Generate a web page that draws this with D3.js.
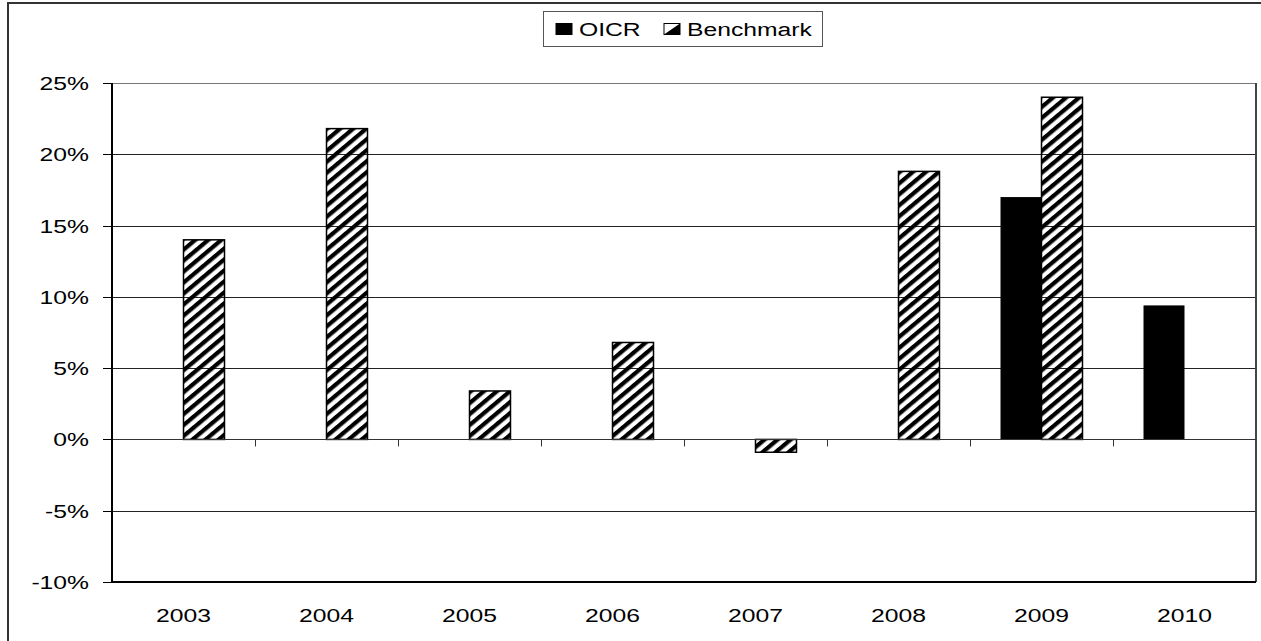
<!DOCTYPE html>
<html>
<head>
<meta charset="utf-8">
<script src="https://cdn.jsdelivr.net/npm/d3@7"></script>
<style>
  body { margin: 0; background: #fff; }
  text { font-family: "Liberation Sans", Arial, sans-serif; fill: #000; }
</style>
</head>
<body>
<svg id="chart" width="1261" height="641"></svg>
<script>
// chart values (percent)
var years = ["2003", "2004", "2005", "2006", "2007", "2008", "2009", "2010"];
var oicr = [null, null, null, null, null, null, 17.0, 9.4];
var benchmark = [14.0, 21.8, 3.4, 6.8, -0.9, 18.8, 24.0, null];
var yTicks = [-10, -5, 0, 5, 10, 15, 20, 25];
var seriesNames = ["OICR", "Benchmark"];

var svg = d3.select("#chart");
var stretch = 1.3; // the original text looks wider than normal Arial

// plot area
var plotL = 112, plotR = 1256, plotT = 83, plotB = 582;

var y = d3.scaleLinear().domain([-10, 25]).range([plotB, plotT]);
var x0 = d3.scaleBand().domain(years).range([plotL, plotR]);
var x1 = d3.scaleBand().domain(seriesNames).range([0, x0.bandwidth()]).paddingOuter(0.744);

// hatch pattern for the benchmark bars
var defs = svg.append("defs");
defs.append("pattern")
  .attr("id", "hatch")
  .attr("patternUnits", "userSpaceOnUse")
  .attr("width", 8.4).attr("height", 8.4)
  .attr("patternTransform", "rotate(50)")
  .append("rect")
  .attr("width", 4.2).attr("height", 8.4)
  .attr("fill", "#000");

// outer frame (only left + top edges are inside the picture)
svg.append("rect")
  .attr("x", 8).attr("y", 3)
  .attr("width", 1300).attr("height", 700)
  .attr("fill", "none")
  .attr("stroke", "#333").attr("stroke-width", 2);

// gridlines
svg.append("g").selectAll("line")
  .data(yTicks.filter(function(t){ return t !== -10 && t !== 0; }))
  .enter().append("line")
  .attr("x1", plotL).attr("x2", plotR)
  .attr("y1", function(d){ return Math.round(y(d)) + 0.5; })
  .attr("y2", function(d){ return Math.round(y(d)) + 0.5; })
  .attr("stroke", function(d){ return d === 25 ? "#777" : "#222"; })
  .attr("stroke-width", 1);

// right and bottom edges of the plot area
svg.append("line")
  .attr("x1", plotR).attr("x2", plotR).attr("y1", plotT).attr("y2", plotB)
  .attr("stroke", "#444").attr("stroke-width", 2);
svg.append("line")
  .attr("x1", plotL).attr("x2", plotR).attr("y1", plotB).attr("y2", plotB)
  .attr("stroke", "#000").attr("stroke-width", 2);

// bars
var groups = svg.append("g").selectAll("g")
  .data(years)
  .enter().append("g")
  .attr("transform", function(d){ return "translate(" + x0(d) + ",0)"; });

groups.each(function(yr, i) {
  var g = d3.select(this);
  if (oicr[i] != null) {
    g.append("rect")
      .attr("x", x1("OICR"))
      .attr("y", y(Math.max(0, oicr[i])))
      .attr("width", x1.bandwidth())
      .attr("height", Math.abs(y(oicr[i]) - y(0)))
      .attr("fill", "#000");
  }
  if (benchmark[i] != null) {
    g.append("rect")
      .attr("x", x1("Benchmark"))
      .attr("y", y(Math.max(0, benchmark[i])))
      .attr("width", x1.bandwidth())
      .attr("height", Math.abs(y(benchmark[i]) - y(0)))
      .attr("fill", "url(#hatch)")
      .attr("stroke", "#000").attr("stroke-width", 1.5);
  }
});

// zero axis with category ticks
svg.append("line")
  .attr("x1", plotL).attr("x2", plotR)
  .attr("y1", Math.round(y(0)) + 0.5).attr("y2", Math.round(y(0)) + 0.5)
  .attr("stroke", "#333").attr("stroke-width", 1);
svg.append("g").selectAll("line")
  .data(years.slice(1))
  .enter().append("line")
  .attr("x1", function(d){ return Math.round(x0(d)) + 0.5; })
  .attr("x2", function(d){ return Math.round(x0(d)) + 0.5; })
  .attr("y1", y(0)).attr("y2", y(0) + 7)
  .attr("stroke", "#333").attr("stroke-width", 1);

// y axis
svg.append("line")
  .attr("x1", plotL).attr("x2", plotL).attr("y1", plotT).attr("y2", plotB)
  .attr("stroke", "#000").attr("stroke-width", 2);
svg.append("g").selectAll("line")
  .data(yTicks)
  .enter().append("line")
  .attr("x1", plotL - 9).attr("x2", plotL)
  .attr("y1", function(d){ return Math.round(y(d)) + 0.5; })
  .attr("y2", function(d){ return Math.round(y(d)) + 0.5; })
  .attr("stroke", "#000").attr("stroke-width", 1);

svg.append("g").selectAll("text")
  .data(yTicks)
  .enter().append("text")
  .attr("transform", function(d){ return "translate(89," + (y(d) + 7) + ") scale(" + stretch + ",1)"; })
  .attr("text-anchor", "end")
  .attr("font-size", 19)
  .text(function(d){ return d + "%"; });

// x labels
svg.append("g").selectAll("text")
  .data(years)
  .enter().append("text")
  .attr("transform", function(d){ return "translate(" + (x0(d) + x0.bandwidth() / 2) + ",622) scale(" + stretch + ",1)"; })
  .attr("text-anchor", "middle")
  .attr("font-size", 19)
  .text(function(d){ return d; });

// legend
var legend = svg.append("g");
legend.append("rect")
  .attr("x", 543.5).attr("y", 11.5).attr("width", 279).attr("height", 35)
  .attr("fill", "#fff").attr("stroke", "#555").attr("stroke-width", 1);
var legendX = [556, 664];
seriesNames.forEach(function(name, i) {
  legend.append("rect")
    .attr("x", legendX[i]).attr("y", 23.5)
    .attr("width", 16).attr("height", 11)
    .attr("fill", i === 0 ? "#000" : "#fff")
    .attr("stroke", "#000").attr("stroke-width", 1);
  if (i === 1) {
    legend.append("path")
      .attr("d", "M" + (legendX[i] + 16) + ",23.5 L" + (legendX[i] + 16) + ",34.5 L" + legendX[i] + ",34.5 Z")
      .attr("fill", "#000");
  }
  legend.append("text")
    .attr("transform", "translate(" + (legendX[i] + 23) + ",36) scale(" + stretch + ",1)")
    .attr("font-size", 19)
    .text(name);
});
</script>
</body>
</html>
